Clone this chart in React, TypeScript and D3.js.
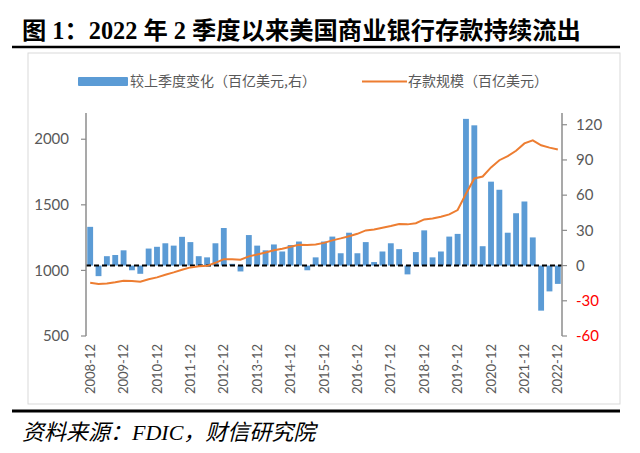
import React from "react";
import * as d3 from "d3";

const W = 640;
const H = 453;

const startYear = 2008;
const quarters: string[] = d3.range(57).map((i) => {
  const m = ((i + 3) % 4) * 3 + 3; // 12,3,6,9...
  const y = startYear + Math.floor((i + 3) / 4);
  return `${y}-${m}`;
});

const changeValues: number[] = [
  33, -9, 8, 9, 13, -4, -7, 14.5, 16, 19, 17, 24.5, 20, 8, 7, 19, 32, 1.5, -5, 26,
  17, 13, 18, 12, 17.5, 20.5, -4, 7, 20.5, 24.7, 10.5, 28, 10.5, 20, 3, 12, 19, 14,
  -7.5, 11.5, 30, 7, 12, 24.7, 27, 125, 119.5, 16.5, 71.5, 64.6, 28, 44.6, 54.6, 24,
  -38.4, -22, -15.6,
];

const depositValues: number[] = [
  906, 896, 901, 909, 921, 919, 914, 932, 947, 967, 985, 1005, 1023, 1031, 1035,
  1058, 1086, 1086, 1081, 1107, 1122, 1137, 1153, 1165, 1180, 1196, 1194, 1198,
  1210, 1229, 1244, 1261, 1279, 1305, 1312, 1325, 1338, 1353, 1351, 1360, 1389,
  1396, 1409, 1427, 1460, 1585, 1701, 1716, 1785, 1840, 1871, 1912, 1968, 1992,
  1954, 1936, 1922,
];

const leftTicks = [500, 1000, 1500, 2000];
const rightTicks = [-60, -30, 0, 30, 60, 90, 120];

const titleText = "图 1：2022 年 2 季度以来美国商业银行存款持续流出";
const sourceText = "资料来源：FDIC，财信研究院";
const legendBar = "较上季度变化（百亿美元,右）";
const legendLine = "存款规模（百亿美元）";

const plot = { left: 86, right: 562, top: 113, bottom: 336 };

export default function App() {
  const x = d3
    .scaleBand<string>()
    .domain(quarters)
    .range([plot.left, plot.right])
    .paddingInner(0.3)
    .paddingOuter(0.15);
  const yL = d3.scaleLinear().domain([500, 2200]).range([plot.bottom, plot.top]);
  const yR = d3.scaleLinear().domain([-60, 130]).range([plot.bottom, plot.top]);

  const line = d3
    .line<number>()
    .x((_, i) => (x(quarters[i]) as number) + x.bandwidth() / 2)
    .y((d) => yL(d));

  const axisColor = "#8c8c8c";
  const textColor = "#595959";
  const tickFont = "Lato, 'Liberation Sans', sans-serif";
  const cjk = "'Noto Sans CJK SC', sans-serif";

  return (
    <svg
      width={W}
      height={H}
      style={{ position: "absolute", left: 0, top: 0, background: "#fff" }}
    >
      {/* title */}
      <text
        x={22}
        y={39}
        fontSize={24.3}
        fontWeight="bold"
        fontFamily="'Liberation Serif', 'Noto Sans CJK SC', serif"
        fill="#000"
      >
        {titleText}
      </text>
      <line x1={12} x2={620} y1={47} y2={47} stroke="#000" strokeWidth={2.5} />
      {/* frame */}
      <rect x={28} y={53} width={592} height={351} fill="none" stroke="#d9d9d9" strokeWidth={1} />

      {/* legend */}
      <rect x={78} y={77} width={50} height={9} fill="#5B9BD5" rx={1} />
      <text x={130} y={86} fontSize={14} fontFamily={cjk} fill={textColor}>
        {legendBar}
      </text>
      <line x1={362} x2={407} y1={81.5} y2={81.5} stroke="#ED7D31" strokeWidth={2} />
      <text x={408} y={86} fontSize={14} fontFamily={cjk} fill={textColor}>
        {legendLine}
      </text>

      {/* bars */}
      {changeValues.map((v, i) => (
        <rect
          key={i}
          x={x(quarters[i])}
          width={x.bandwidth()}
          y={Math.min(yR(v), yR(0))}
          height={Math.abs(yR(v) - yR(0))}
          fill="#5B9BD5"
        />
      ))}

      {/* zero dashed line */}
      <line
        x1={plot.left}
        x2={plot.right}
        y1={yR(0)}
        y2={yR(0)}
        stroke="#000"
        strokeWidth={2}
        strokeDasharray="5,3"
      />

      {/* deposits line */}
      <path d={line(depositValues) || ""} fill="none" stroke="#ED7D31" strokeWidth={2} />

      {/* left axis */}
      <line x1={plot.left} x2={plot.left} y1={plot.top} y2={plot.bottom} stroke={axisColor} strokeWidth={1.5} />
      {leftTicks.map((t) => (
        <g key={t}>
          <line x1={plot.left - 5} x2={plot.left} y1={yL(t)} y2={yL(t)} stroke={axisColor} strokeWidth={1.2} />
          <text
            x={69}
            y={yL(t)}
            dy="0.35em"
            textAnchor="end"
            fontSize={15}
            fontFamily={tickFont}
            fill={textColor}
          >
            {t}
          </text>
        </g>
      ))}

      {/* right axis */}
      <line x1={plot.right} x2={plot.right} y1={plot.top} y2={plot.bottom} stroke={axisColor} strokeWidth={1.5} />
      {rightTicks.map((t) => (
        <g key={t}>
          <line x1={plot.right} x2={plot.right + 5} y1={yR(t)} y2={yR(t)} stroke={axisColor} strokeWidth={1.2} />
          <text
            x={576}
            y={yR(t)}
            dy="0.35em"
            textAnchor="start"
            fontSize={15}
            fontFamily={tickFont}
            fill={t < 0 ? "#FF0000" : textColor}
          >
            {t}
          </text>
        </g>
      ))}

      {/* x labels */}
      {quarters.map((q, i) =>
        i % 4 === 0 ? (
          <text
            key={q}
            transform={`translate(${(x(q) as number) + x.bandwidth() / 2},${plot.bottom + 8}) rotate(-90)`}
            textAnchor="end"
            dy="0.35em"
            fontSize={13}
            fontFamily={tickFont}
            fill={textColor}
          >
            {q}
          </text>
        ) : null
      )}

      {/* source */}
      <line x1={12} x2={620} y1={411} y2={411} stroke="#000" strokeWidth={3} />
      <text
        x={22}
        y={440}
        fontSize={22}
        fontStyle="italic"
        fontFamily="'Liberation Serif', 'Noto Sans CJK SC', serif"
        fill="#000"
      >
        {sourceText}
      </text>
    </svg>
  );
}
